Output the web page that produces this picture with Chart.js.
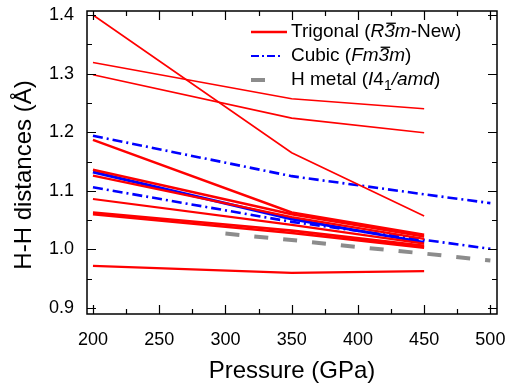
<!DOCTYPE html>
<html>
<head>
<meta charset="utf-8">
<script src="https://cdn.jsdelivr.net/npm/chart.js@4.4.1/dist/chart.umd.min.js"></script>
<style>
  html, body {margin: 0; padding: 0; background: #fff;}
  #wrap {width: 507px; height: 386px;}
</style>
</head>
<body>
<div id="wrap"><canvas id="chart" width="507" height="386"></canvas></div>
<script>
const FONT = '"Liberation Sans", Arial, Helvetica, sans-serif'

// tick labels
const xMajor = [200, 250, 300, 350, 400, 450, 500]
const xMinor = [225, 275, 325, 375, 425, 475]
const yMajor = [0.9, 1.0, 1.1, 1.2, 1.3, 1.4]
const yMinor = [0.95, 1.05, 1.15, 1.25, 1.35]

// Trigonal (R-3m-New), red lines
const trigP = [200, 350, 450]
const trig1 = [1.400, 1.165, 1.057]
const trig2 = [1.319, 1.257, 1.240]
const trig3 = [1.298, 1.224, 1.199]
const trig4 = [1.187, 1.063, 1.025]
const trig5 = [1.136, 1.060, 1.022]
const trig6 = [1.126, 1.055, 1.018]
const trig7 = [1.086, 1.042, 1.010]
const trig8 = [1.063, 1.032, 1.006]
const trig9 = [1.060, 1.028, 1.003]
const trig10 = [0.972, 0.960, 0.963]

// Cubic (Fm-3m), blue
const cubicAP = [200, 350, 450, 500]
const cubicA = [1.194, 1.125, 1.094, 1.079]
const cubicBP = [200, 350, 450]
const cubicB = [1.132, 1.052, 1.012]
const cubicCP = [200, 350, 500]
const cubicC = [1.106, 1.047, 1.001]

// H metal (I41/amd), gray
const hMetalP = [300, 350, 400, 450, 500]
const hMetal = [1.027, 1.016, 1.004, 0.993, 0.981]

const RED = '#ff0000'
const BLUE = '#0000ff'
const GRAY = '#8c8c8c'

function pts(xs, ys) {
  return xs.map((x, i) => ({x: x, y: ys[i]}))
}

function line(xs, ys, color, width, dash) {
  return {
    data: pts(xs, ys),
    borderColor: color,
    backgroundColor: color,
    borderWidth: width,
    borderDash: dash || [],
    pointRadius: 0,
    tension: 0,
    fill: false,
  }
}

const datasets = [
  line(trigP, trig1, RED, 1.6),
  line(trigP, trig2, RED, 1.6),
  line(trigP, trig3, RED, 1.6),
  line(trigP, trig4, RED, 2.4),
  line(trigP, trig5, RED, 2.4),
  line(trigP, trig6, RED, 2.2),
  line(trigP, trig7, RED, 2.2),
  line(trigP, trig8, RED, 2.6),
  line(trigP, trig9, RED, 2.6),
  line(trigP, trig10, RED, 2.2),
  line(cubicAP, cubicA, BLUE, 2.6, [10, 4, 2, 4]),
  line(cubicBP, cubicB, BLUE, 3),
  line(cubicCP, cubicC, BLUE, 2.6, [10, 4, 2, 4]),
  line(hMetalP, hMetal, GRAY, 4, [14, 15]),
]

// rich text helper for the legend
function drawRich(ctx, parts, x, y, size) {
  ctx.textBaseline = 'middle'
  ctx.textAlign = 'left'
  for (const p of parts) {
    const ital = p.i ? 'italic ' : ''
    if (p.sub) {
      ctx.font = ital + Math.round(size * 0.75) + 'px ' + FONT
      ctx.fillText(p.t, x, y + size * 0.3)
    } else {
      ctx.font = ital + size + 'px ' + FONT
      ctx.fillText(p.t, x, y)
    }
    const w = ctx.measureText(p.t).width
    if (p.bar) {
      ctx.save()
      ctx.lineWidth = 1.3
      ctx.strokeStyle = '#000'
      ctx.beginPath()
      ctx.moveTo(x + 2, y - size * 0.46)
      ctx.lineTo(x + w + 1, y - size * 0.46)
      ctx.stroke()
      ctx.restore()
    }
    x += w
  }
}

const legendItems = [
  {color: RED, width: 2.6, dash: [], len: 36,
    parts: [{t: 'Trigonal ('}, {t: 'R', i: 1}, {t: '3', i: 1, bar: 1}, {t: 'm', i: 1}, {t: '-New)'}]},
  {color: BLUE, width: 2.2, dash: [8, 3, 2, 3], len: 31,
    parts: [{t: 'Cubic ('}, {t: 'Fm', i: 1}, {t: '3', i: 1, bar: 1}, {t: 'm', i: 1}, {t: ')'}]},
  {color: GRAY, width: 4, dash: [], len: 14,
    parts: [{t: 'H metal ('}, {t: 'I', i: 1}, {t: '4'}, {t: '1', sub: 1}, {t: '/amd', i: 1}, {t: ')'}]},
]

const framePlugin = {
  id: 'frame',
  afterDatasetsDraw(chart) {
    const {ctx, chartArea: a, scales} = chart
    const sx = scales.x, sy = scales.y
    ctx.save()
    ctx.strokeStyle = '#000'
    ctx.lineWidth = 1.5
    ctx.strokeRect(a.left, a.top, a.right - a.left, a.bottom - a.top)
    ctx.lineWidth = 1.2
    ctx.beginPath()
    const xt = (v, len) => {
      const p = Math.round(sx.getPixelForValue(v)) + 0.5
      ctx.moveTo(p, a.bottom); ctx.lineTo(p, a.bottom - len)
      ctx.moveTo(p, a.top); ctx.lineTo(p, a.top + len)
    }
    const yt = (v, len) => {
      const p = Math.round(sy.getPixelForValue(v)) + 0.5
      ctx.moveTo(a.left, p); ctx.lineTo(a.left + len, p)
      ctx.moveTo(a.right, p); ctx.lineTo(a.right - len, p)
    }
    xMajor.forEach(v => xt(v, 9))
    xMinor.forEach(v => xt(v, 5))
    yMajor.forEach(v => yt(v, 9))
    yMinor.forEach(v => yt(v, 5))
    ctx.stroke()

    // y axis title
    ctx.fillStyle = '#000'
    ctx.font = '24px ' + FONT
    ctx.textAlign = 'center'
    ctx.textBaseline = 'middle'
    ctx.translate(24, 175)
    ctx.rotate(-Math.PI / 2)
    ctx.fillText('H-H distances (Å)', 0, 0)
    ctx.restore()

    // legend
    ctx.save()
    ctx.fillStyle = '#000'
    legendItems.forEach((it, i) => {
      const y = a.top + 21 + i * 24
      const x0 = a.left + 164
      ctx.strokeStyle = it.color
      ctx.lineWidth = it.width
      ctx.setLineDash(it.dash)
      ctx.beginPath()
      ctx.moveTo(x0, y)
      ctx.lineTo(x0 + it.len, y)
      ctx.stroke()
      ctx.setLineDash([])
      drawRich(ctx, it.parts, a.left + 204, y, 19)
    })
    ctx.restore()
  }
}

function noPad(s) {
  s.paddingTop = 0
  s.paddingBottom = 0
  s.paddingLeft = 0
  s.paddingRight = 0
}

new Chart(document.getElementById('chart'), {
  type: 'line',
  data: {datasets: datasets},
  options: {
    responsive: false,
    animation: false,
    devicePixelRatio: 1,
    layout: {padding: {top: 11, right: 10, left: 0, bottom: 0}},
    plugins: {legend: {display: false}, tooltip: {enabled: false}},
    scales: {
      x: {
        type: 'linear',
        min: 195.5,
        max: 505,
        afterBuildTicks: s => { s.ticks = xMajor.map(v => ({value: v})) },
        afterFit: s => { s.height = 72; noPad(s) },
        grid: {display: false, drawTicks: false},
        border: {display: false},
        ticks: {color: '#000', font: {family: FONT, size: 18}, padding: 15, maxRotation: 0},
        title: {display: true, text: 'Pressure (GPa)', color: '#000',
          font: {family: FONT, size: 24}, padding: {top: 0, bottom: 0}},
      },
      y: {
        type: 'linear',
        min: 0.8898,
        max: 1.4068,
        afterBuildTicks: s => { s.ticks = yMajor.map(v => ({value: v})) },
        afterFit: s => { s.width = 87; noPad(s) },
        grid: {display: false, drawTicks: false},
        border: {display: false},
        ticks: {color: '#000', font: {family: FONT, size: 18}, padding: 13,
          callback: v => v.toFixed(1)},
      },
    },
  },
  plugins: [framePlugin],
})
</script>
</body>
</html>
